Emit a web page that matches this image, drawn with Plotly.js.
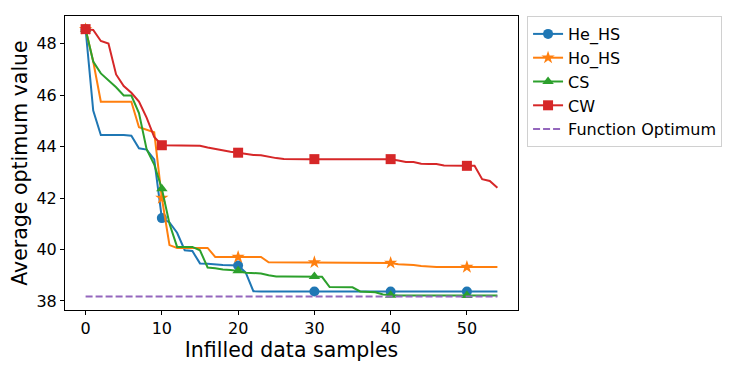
<!DOCTYPE html>
<html>
<head>
<meta charset="utf-8">
<script src="https://cdn.plot.ly/plotly-3.0.1.min.js"></script>
<style>
  html, body { margin: 0; padding: 0; background: #fff; }
  #chart { width: 747px; height: 372px; }
</style>
</head>
<body>
<div id="chart"></div>
<script>
// infilled samples 0..54
const samples = [];
for (let i = 0; i <= 54; i++) samples.push(i);

const heHS = [48.56, 45.4, 44.45, 44.45, 44.45, 44.45, 44.42, 43.93, 43.88, 43.5,
  41.22, 41.05, 40.65, 39.97, 39.94, 39.46, 39.45, 39.42, 39.4, 39.39,
  39.38, 39.1, 38.38, 38.37, 38.37, 38.37, 38.37, 38.37, 38.37, 38.37,
  38.37, 38.37, 38.37, 38.37, 38.37, 38.37, 38.37, 38.37, 38.37, 38.37,
  38.37, 38.37, 38.37, 38.37, 38.37, 38.37, 38.37, 38.37, 38.37, 38.37,
  38.37, 38.37, 38.37, 38.37, 38.37];

const hoHS = [48.56, 47.3, 45.74, 45.74, 45.74, 45.74, 45.74, 44.75, 44.65, 44.55,
  42.0, 40.17, 40.06, 40.06, 40.06, 40.06, 40.06, 39.71, 39.71, 39.71,
  39.71, 39.71, 39.71, 39.71, 39.5, 39.5, 39.5, 39.5, 39.5, 39.5,
  39.5, 39.5, 39.5, 39.5, 39.5, 39.5, 39.5, 39.5, 39.49, 39.48,
  39.48, 39.43, 39.42, 39.4, 39.36, 39.33, 39.32, 39.32, 39.32, 39.32,
  39.32, 39.32, 39.32, 39.32, 39.32];

const cs = [48.56, 47.3, 46.84, 46.56, 46.3, 45.98, 45.98, 45.3, 43.9, 43.3,
  42.36, 41.0, 40.1, 40.1, 40.1, 39.97, 39.3, 39.27, 39.22, 39.2,
  39.17, 39.1, 39.08, 39.07, 39.0, 38.95, 38.95, 38.95, 38.95, 38.95,
  38.95, 38.94, 38.54, 38.53, 38.53, 38.53, 38.37, 38.36, 38.34, 38.25,
  38.22, 38.21, 38.21, 38.21, 38.21, 38.21, 38.21, 38.21, 38.21, 38.21,
  38.21, 38.21, 38.21, 38.21, 38.21];

const cw = [48.56, 48.53, 48.1, 48.0, 46.8, 46.35, 46.09, 45.75, 45.12, 44.37,
  44.05, 44.04, 44.04, 44.04, 44.04, 44.03, 43.96, 43.9, 43.84, 43.8,
  43.76, 43.72, 43.67, 43.66, 43.6, 43.55, 43.52, 43.51, 43.51, 43.51,
  43.51, 43.51, 43.51, 43.51, 43.51, 43.51, 43.51, 43.51, 43.51, 43.51,
  43.51, 43.46, 43.4, 43.4, 43.33, 43.32, 43.32, 43.26, 43.25, 43.25,
  43.25, 43.25, 42.73, 42.66, 42.4];

const optimumValue = 38.17;
const optimumX = [0, 54];
const optimumY = [optimumValue, optimumValue];

const names = ['He_HS', 'Ho_HS', 'CS', 'CW', 'Function Optimum'];
const colors = ['#1f77b4', '#ff7f0e', '#2ca02c', '#d62728', '#9467bd'];
const symbols = ['circle', 'star', 'triangle-up', 'square'];
const markSizes = [10, 10, 10, 10];

// markers only every 10 samples (markevery=10): other points get a clear colour
function everyTen(col) {
  return samples.map(i => (i % 10 === 0 ? col : 'rgba(0,0,0,0)'));
}

const series = [heHS, hoHS, cs, cw];
const data = series.map((ys, k) => ({
  x: samples,
  y: ys,
  name: names[k],
  legendgroup: names[k],
  type: 'scatter',
  mode: 'lines+markers',
  line: {color: colors[k], width: 2},
  marker: {color: everyTen(colors[k]), symbol: symbols[k], size: markSizes[k], opacity: 1, line: {width: 0}}
}));

data.push({
  x: optimumX,
  y: optimumY,
  name: names[4],
  legendgroup: names[4],
  type: 'scatter',
  mode: 'lines',
  line: {color: colors[4], width: 2, dash: '7px,3px'}
});

const fam = 'DejaVu Sans, sans-serif';
const tickFont = {family: fam, size: 16, color: '#000'};
const titleFont = {family: fam, size: 20.5, color: '#000'};

const layout = {
  width: 747,
  height: 372,
  margin: {l: 65, r: 229, t: 16, b: 62},
  paper_bgcolor: '#fff',
  plot_bgcolor: '#fff',
  font: {family: fam, color: '#000'},
  showlegend: true,
  legend: {
    x: 1.02, xanchor: 'left', y: 1.0, yanchor: 'top',
    bordercolor: '#d0d0d0', borderwidth: 1,
    font: {family: fam, size: 16, color: '#000'},
    traceorder: 'grouped', tracegroupgap: 0
  },
  xaxis: {
    range: [-2.7, 56.7],
    tickvals: [0, 10, 20, 30, 40, 50],
    ticks: 'outside', ticklen: 4, tickcolor: '#000', tickwidth: 1,
    showline: true, linecolor: '#000', linewidth: 1, mirror: true,
    showgrid: false, zeroline: false,
    tickfont: tickFont,
    title: {text: 'Infilled data samples', font: titleFont, standoff: 5}
  },
  yaxis: {
    range: [37.65, 49.07],
    tickvals: [38, 40, 42, 44, 46, 48],
    ticks: 'outside', ticklen: 4, tickcolor: '#000', tickwidth: 1,
    showline: true, linecolor: '#000', linewidth: 1, mirror: true,
    showgrid: false, zeroline: false,
    tickfont: tickFont,
    title: {text: 'Average optimum value', font: titleFont, standoff: 3}
  },
  hovermode: false
};

Plotly.newPlot('chart', data, layout, {displayModeBar: false, staticPlot: true});
</script>
</body>
</html>
